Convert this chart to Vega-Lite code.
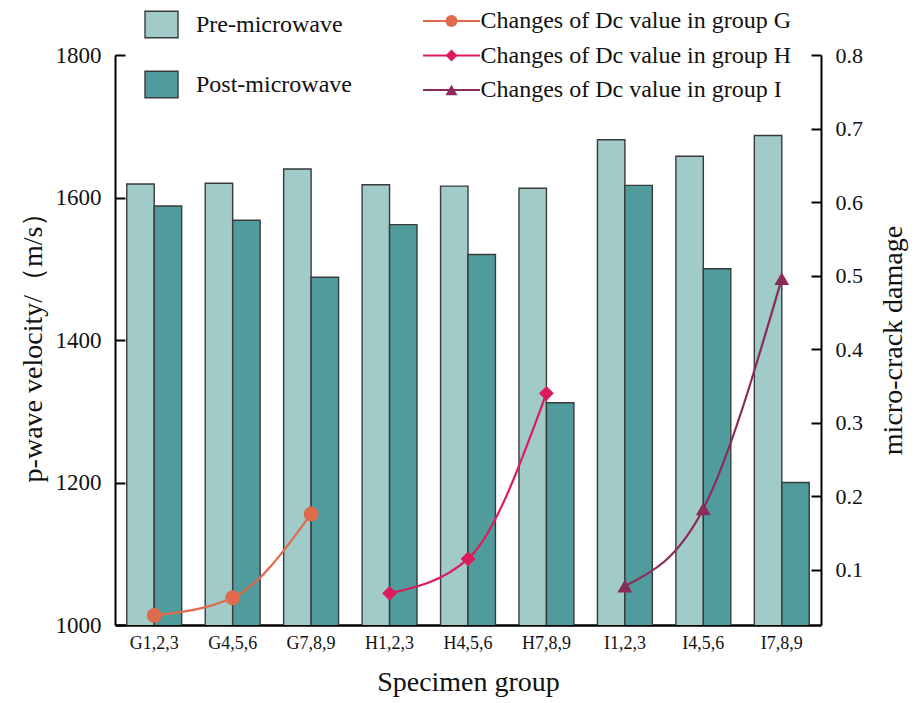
{
  "$schema": "https://vega.github.io/schema/vega-lite/v6.json",
  "width": 706,
  "height": 570,
  "autosize": {"type": "none"},
  "padding": {"left": 115, "top": 55, "right": 95, "bottom": 78},
  "datasets": {
    "bars": [
      {"specimen": "G1,2,3", "phase": "Pre-microwave", "velocity": 1619},
      {"specimen": "G4,5,6", "phase": "Pre-microwave", "velocity": 1620},
      {"specimen": "G7,8,9", "phase": "Pre-microwave", "velocity": 1640},
      {"specimen": "H1,2,3", "phase": "Pre-microwave", "velocity": 1618},
      {"specimen": "H4,5,6", "phase": "Pre-microwave", "velocity": 1616},
      {"specimen": "H7,8,9", "phase": "Pre-microwave", "velocity": 1613},
      {"specimen": "I1,2,3", "phase": "Pre-microwave", "velocity": 1681},
      {"specimen": "I4,5,6", "phase": "Pre-microwave", "velocity": 1658},
      {"specimen": "I7,8,9", "phase": "Pre-microwave", "velocity": 1687},
      {"specimen": "G1,2,3", "phase": "Post-microwave", "velocity": 1588},
      {"specimen": "G4,5,6", "phase": "Post-microwave", "velocity": 1568},
      {"specimen": "G7,8,9", "phase": "Post-microwave", "velocity": 1488},
      {"specimen": "H1,2,3", "phase": "Post-microwave", "velocity": 1562},
      {"specimen": "H4,5,6", "phase": "Post-microwave", "velocity": 1520},
      {"specimen": "H7,8,9", "phase": "Post-microwave", "velocity": 1312},
      {"specimen": "I1,2,3", "phase": "Post-microwave", "velocity": 1617},
      {"specimen": "I4,5,6", "phase": "Post-microwave", "velocity": 1500},
      {"specimen": "I7,8,9", "phase": "Post-microwave", "velocity": 1200}
    ],
    "lines": [
      {"specimen": "G1,2,3", "group": "G", "series": "Changes of Dc value in group G", "damage": 0.038},
      {"specimen": "G4,5,6", "group": "G", "series": "Changes of Dc value in group G", "damage": 0.062},
      {"specimen": "G7,8,9", "group": "G", "series": "Changes of Dc value in group G", "damage": 0.176},
      {"specimen": "H1,2,3", "group": "H", "series": "Changes of Dc value in group H", "damage": 0.068},
      {"specimen": "H4,5,6", "group": "H", "series": "Changes of Dc value in group H", "damage": 0.115},
      {"specimen": "H7,8,9", "group": "H", "series": "Changes of Dc value in group H", "damage": 0.34},
      {"specimen": "I1,2,3", "group": "I", "series": "Changes of Dc value in group I", "damage": 0.078},
      {"specimen": "I4,5,6", "group": "I", "series": "Changes of Dc value in group I", "damage": 0.183},
      {"specimen": "I7,8,9", "group": "I", "series": "Changes of Dc value in group I", "damage": 0.496}
    ]
  },
  "config": {
    "font": "Liberation Serif",
    "view": {"stroke": null},
    "axis": {
      "labelFont": "Liberation Serif",
      "titleFont": "Liberation Serif",
      "labelColor": "#111111",
      "titleColor": "#111111",
      "titleFontWeight": "normal",
      "domainColor": "#000000",
      "tickColor": "#000000",
      "grid": false
    },
    "legend": {"labelFont": "Liberation Serif", "labelColor": "#111111", "labelLimit": 0}
  },
  "encoding": {
    "x": {
      "field": "specimen",
      "type": "nominal",
      "sort": ["G1,2,3", "G4,5,6", "G7,8,9", "H1,2,3", "H4,5,6", "H7,8,9", "I1,2,3", "I4,5,6", "I7,8,9"],
      "scale": {"paddingInner": 0.3, "paddingOuter": 0.15},
      "axis": {
        "title": "Specimen group",
        "labelAngle": 0,
        "ticks": false,
        "domainWidth": 2.5,
        "labelFontSize": 18,
        "labelPadding": 9,
        "titleFontSize": 28,
        "titlePadding": 16
      }
    }
  },
  "layer": [
    {
      "data": {"name": "bars"},
      "mark": {"type": "bar", "stroke": "#3a3a3a", "strokeWidth": 1.4, "clip": true},
      "encoding": {
        "xOffset": {
          "field": "phase",
          "type": "nominal",
          "sort": ["Pre-microwave", "Post-microwave"],
          "scale": {"paddingInner": 0, "paddingOuter": 0}
        },
        "y": {
          "field": "velocity",
          "type": "quantitative",
          "scale": {"domain": [1000, 1800], "nice": false, "zero": false},
          "axis": {
            "title": "p-wave velocity/（m/s）",
            "values": [1000, 1200, 1400, 1600, 1800],
            "format": "d",
            "tickSize": -10,
            "tickWidth": 2,
            "domainWidth": 2,
            "labelFontSize": 23,
            "labelPadding": 24,
            "titleFontSize": 28,
            "titlePadding": 8
          }
        },
        "color": {
          "field": "phase",
          "type": "nominal",
          "scale": {"domain": ["Pre-microwave", "Post-microwave"], "range": ["#a0cbc9", "#509b9c"]},
          "legend": {
            "orient": "none",
            "legendX": 29,
            "legendY": -48,
            "title": null,
            "padding": 0,
            "symbolType": "M-1,-0.8H1V0.8H-1Z",
            "symbolSize": 1089,
            "symbolStrokeColor": "#3a3a3a",
            "symbolStrokeWidth": 1.4,
            "symbolOpacity": 1,
            "labelFontSize": 24,
            "labelOffset": 17,
            "rowPadding": 26
          }
        }
      }
    },
    {
      "data": {"name": "lines"},
      "encoding": {
        "y": {
          "field": "damage",
          "type": "quantitative",
          "scale": {"domain": [0.025, 0.8], "nice": false, "zero": false},
          "axis": {
            "orient": "right",
            "title": "micro-crack damage",
            "values": [0.1, 0.2, 0.3, 0.4, 0.5, 0.6, 0.7, 0.8],
            "format": ".1f",
            "tickSize": -10,
            "tickWidth": 2,
            "domainWidth": 2,
            "labelFontSize": 22,
            "labelPadding": 24,
            "titleFontSize": 28,
            "titleAngle": -90,
            "titleBaseline": "top",
            "titlePadding": 17
          }
        }
      },
      "layer": [
        {
          "mark": {"type": "line", "interpolate": "monotone", "strokeWidth": 2.2},
          "encoding": {
            "stroke": {
              "field": "series",
              "type": "nominal",
              "scale": {
                "domain": ["Changes of Dc value in group G", "Changes of Dc value in group H", "Changes of Dc value in group I"],
                "range": ["#e06a4c", "#de1a5e", "#8c2b5a"]
              },
              "legend": {
                "orient": "none",
                "legendX": 324.5,
                "legendY": -46,
                "title": null,
                "padding": 0,
                "symbolType": "M-4.75,0H4.75",
                "symbolSize": 144,
                "symbolStrokeWidth": 2.2,
                "symbolFillColor": "transparent",
                "labelFontSize": 24,
                "labelOffset": 17,
                "labelLimit": 0,
                "rowPadding": 10.5
              }
            }
          }
        },
        {
          "mark": {"type": "point", "filled": true, "opacity": 1, "size": 220},
          "encoding": {
            "fill": {
              "field": "group",
              "type": "nominal",
              "scale": {"domain": ["G", "H", "I"], "range": ["#e06a4c", "#de1a5e", "#8c2b5a"]},
              "legend": {
                "orient": "none",
                "legendX": 324.5,
                "legendY": -46,
                "title": null,
                "padding": 0,
                "symbolSize": 144,
                "symbolStrokeWidth": 0,
                "symbolOpacity": 1,
                "labelFontSize": 24,
                "labelOffset": 17,
                "labelExpr": "''",
                "rowPadding": 10.5
              }
            },
            "shape": {
              "field": "group",
              "type": "nominal",
              "scale": {"domain": ["G", "H", "I"], "range": ["circle", "diamond", "triangle-up"]},
              "legend": {
                "orient": "none",
                "legendX": 324.5,
                "legendY": -46,
                "title": null,
                "padding": 0,
                "symbolSize": 144,
                "symbolStrokeWidth": 0,
                "symbolOpacity": 1,
                "labelFontSize": 24,
                "labelOffset": 17,
                "labelExpr": "''",
                "rowPadding": 10.5
              }
            }
          }
        }
      ]
    }
  ],
  "resolve": {"scale": {"y": "independent"}}
}
